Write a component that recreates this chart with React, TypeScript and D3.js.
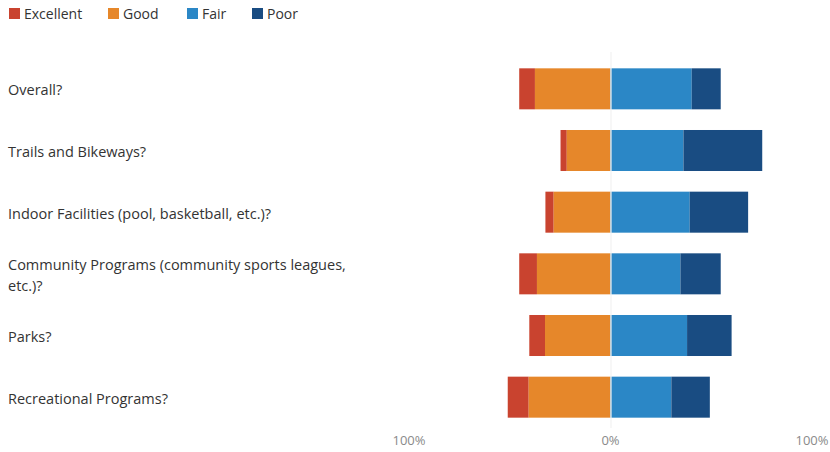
import React from "react";
import * as d3 from "d3";

const categories = [
  ["Overall?"],
  ["Trails and Bikeways?"],
  ["Indoor Facilities (pool, basketball, etc.)?"],
  ["Community Programs (community sports leagues,", "etc.)?"],
  ["Parks?"],
  ["Recreational Programs?"],
];
const excellent = [7.8, 3.1, 4.1, 8.8, 7.8, 10.4];
const good = [37.5, 21.7, 28.2, 36.5, 32.5, 40.6];
const fair = [40.3, 36.2, 39.3, 34.7, 38.0, 30.2];
const poor = [14.4, 39.1, 29.0, 20.0, 22.1, 19.1];
const seriesNames = ["Excellent", "Good", "Fair", "Poor"];
const colors = ["#c9432f", "#e6872a", "#2b87c6", "#194c82"];
const tickValues = [-100, 0, 100];
const tickLabels = ["100%", "0%", "100%"];

export default function App() {
  const W = 830, H = 452;
  const x = d3.scaleLinear().domain([-100, 100]).range([409, 812]);
  const y = d3
    .scaleBand<number>()
    .domain(d3.range(categories.length))
    .range([58, 428])
    .paddingInner(0.335)
    .paddingOuter(0.1675);
  const font = "'Open Sans', 'Noto Sans', sans-serif";

  const segs: { x0: number; x1: number; c: string; i: number; k: number }[] = [];
  categories.forEach((_, i) => {
    const e = excellent[i], g = good[i], f = fair[i], p = poor[i];
    segs.push({ x0: -(e + g), x1: -g, c: colors[0], i, k: 0 });
    segs.push({ x0: -g, x1: 0, c: colors[1], i, k: 1 });
    segs.push({ x0: 0, x1: f, c: colors[2], i, k: 2 });
    segs.push({ x0: f, x1: f + p, c: colors[3], i, k: 3 });
  });

  const legendX = [8, 107, 186, 251];

  return (
    <svg
      width={W}
      height={H}
      style={{ position: "absolute", left: 0, top: 0, background: "#fff" }}
      fontFamily={font}
    >
      {seriesNames.map((s, k) => (
        <g key={s} transform={`translate(${legendX[k]},0)`}>
          <rect x={1} y={8} width={11} height={11} fill={colors[k]} />
          <text x={16} y={19} fontSize={14} fill="#333">
            {s}
          </text>
        </g>
      ))}
      {categories.map((lines, i) => {
        const cy = (y(i) as number) + y.bandwidth() / 2;
        const lh = 21;
        const start = cy - ((lines.length - 1) * lh) / 2;
        return (
          <text key={i} fontSize={14.5} fill="#333">
            {lines.map((l, j) => (
              <tspan key={j} x={8} y={start + j * lh + 6.5}>
                {l}
              </tspan>
            ))}
          </text>
        );
      })}
      {segs.map((s, n) => (
        <rect
          key={n}
          x={x(s.x0)}
          y={y(s.i) as number}
          width={x(s.x1) - x(s.x0)}
          height={y.bandwidth()}
          fill={s.c}
        />
      ))}
      <line
        x1={x(0) + 0.5}
        x2={x(0) + 0.5}
        y1={52}
        y2={428}
        stroke="#f2f2f2"
        strokeWidth={1.2}
      />
      {tickValues.map((v, k) => (
        <text
          key={k}
          x={x(v)}
          y={445}
          textAnchor="middle"
          fontSize={13}
          fill="#8a8a8a"
        >
          {tickLabels[k]}
        </text>
      ))}
    </svg>
  );
}
